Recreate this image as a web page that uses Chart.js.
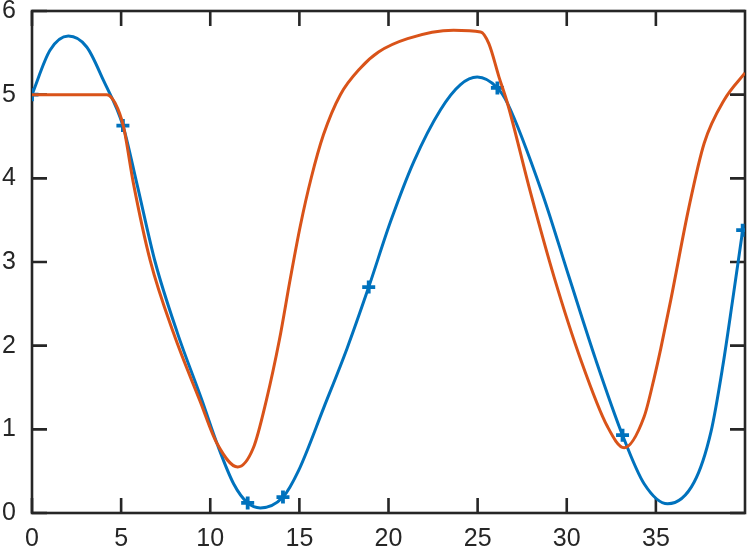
<!DOCTYPE html>
<html>
<head>
<meta charset="utf-8">
<script src="https://cdn.jsdelivr.net/npm/chart.js@4.4.1/dist/chart.umd.min.js"></script>
<style>
  html, body { margin: 0; background: #fff; }
  canvas { display: block; }
</style>
</head>
<body>
<canvas id="chart" width="747" height="559"></canvas>
<script>
// values
const blueX = [0, 1.01, 2.04, 3.07, 4.01, 5.10, 5.88, 6.91, 8.16, 9.53, 10.38, 11.31, 12.10, 12.81,
  14.08, 14.96, 16.37, 17.68, 18.89, 20.11, 21.42, 22.92, 24.04, 24.98, 26.11, 26.67, 28.63,
  30.13, 31.63, 33.13, 34.34, 35.66, 37.15, 38.09, 38.75, 39.31, 39.87];
const blueY = [5.00, 5.53, 5.70, 5.57, 5.17, 4.63, 3.94, 3.00, 2.15, 1.35, 0.83, 0.35, 0.12, 0.06,
  0.19, 0.51, 1.26, 1.97, 2.70, 3.48, 4.20, 4.82, 5.12, 5.21, 5.08, 4.90, 3.82,
  2.82, 1.83, 0.93, 0.35, 0.11, 0.37, 0.97, 1.75, 2.55, 3.38];

const orangeX = [0, 2.10, 4.20, 4.66, 5.13, 5.69, 6.63, 7.94, 9.44, 10.38, 11.54, 12.42, 13.15,
  13.88, 14.49, 15.06, 15.67, 16.35, 17.30, 18.43, 19.44, 21.07, 23.65, 25.17, 25.63, 26.20, 26.67,
  27.98, 29.29, 30.79, 32.29, 33.22, 34.34, 34.90, 35.28, 35.84, 36.85, 37.71, 38.84, 40];
const orangeY = [5.00, 5.00, 5.00, 4.90, 4.62, 3.94, 3.02, 2.15, 1.33, 0.83, 0.55, 0.78, 1.35,
  2.07, 2.80, 3.44, 4.01, 4.52, 5.00, 5.32, 5.51, 5.67, 5.77, 5.75, 5.61, 5.21, 4.90,
  3.82, 2.82, 1.83, 1.03, 0.78, 1.15, 1.61, 1.97, 2.55, 3.65, 4.42, 4.94, 5.26];

const markX = [0, 5.10, 12.10, 14.08, 18.89, 26.11, 33.13, 39.87];
const markY = [5.00, 4.63, 0.12, 0.19, 2.70, 5.08, 0.93, 3.38];

const xTicks = [0, 5, 10, 15, 20, 25, 30, 35];
const yTicks = [0, 1, 2, 3, 4, 5, 6];

const BLUE = '#0072BD';
const ORANGE = '#D95319';
const AXIS = '#262626';
const FONT = { family: "'Liberation Sans', Arial, sans-serif", size: 25 };

const pts = (xs, ys) => xs.map((x, i) => ({ x: x, y: ys[i] }));

// MATLAB style box with inward ticks on all four sides
const boxTicks = {
  id: 'boxTicks',
  beforeDatasetsDraw(chart) {
    const { ctx, chartArea: a, scales } = chart;
    const len = 15;
    ctx.save();
    ctx.strokeStyle = AXIS;
    ctx.lineWidth = 2.6;
    ctx.beginPath();
    xTicks.forEach(v => {
      const p = scales.x.getPixelForValue(v);
      ctx.moveTo(p, a.bottom); ctx.lineTo(p, a.bottom - len);
      ctx.moveTo(p, a.top); ctx.lineTo(p, a.top + len);
    });
    yTicks.forEach(v => {
      const p = scales.y.getPixelForValue(v);
      ctx.moveTo(a.left, p); ctx.lineTo(a.left + len, p);
      ctx.moveTo(a.right, p); ctx.lineTo(a.right - len, p);
    });
    ctx.stroke();
    ctx.strokeRect(a.left, a.top, a.right - a.left, a.bottom - a.top);
    ctx.restore();
  }
};

new Chart(document.getElementById('chart'), {
  type: 'scatter',
  data: {
    datasets: [
      {
        data: pts(orangeX, orangeY),
        showLine: true,
        borderColor: ORANGE,
        borderWidth: 3,
        pointRadius: 0,
        cubicInterpolationMode: 'monotone'
      },
      {
        data: pts(blueX, blueY),
        showLine: true,
        borderColor: BLUE,
        borderWidth: 3,
        pointRadius: 0,
        cubicInterpolationMode: 'monotone'
      },
      {
        data: pts(markX, markY),
        showLine: false,
        pointStyle: 'cross',
        pointRadius: 6.5,
        pointBorderWidth: 3.8,
        borderColor: BLUE,
        backgroundColor: BLUE
      }
    ]
  },
  options: {
    responsive: false,
    animation: false,
    events: [],
    layout: { autoPadding: false, padding: { top: 11, right: 2, left: 0, bottom: 0 } },
    plugins: { legend: { display: false }, tooltip: { enabled: false } },
    scales: {
      x: {
        type: 'linear',
        min: 0,
        max: 40,
        grid: { display: false, drawTicks: false },
        border: { display: false },
        afterBuildTicks: s => { s.ticks = xTicks.map(v => ({ value: v })); },
        ticks: { font: FONT, color: AXIS, padding: 11, maxRotation: 0, autoSkip: false },
        afterFit: s => { s.height = 46; s.paddingLeft = 0; s.paddingRight = 0; }
      },
      y: {
        type: 'linear',
        min: 0,
        max: 6,
        grid: { display: false, drawTicks: false },
        border: { display: false },
        afterBuildTicks: s => { s.ticks = yTicks.map(v => ({ value: v })); },
        ticks: { font: FONT, color: AXIS, padding: 16 },
        afterFit: s => { s.width = 32; s.paddingTop = 0; s.paddingBottom = 0; }
      }
    }
  },
  plugins: [boxTicks]
});
</script>
</body>
</html>
